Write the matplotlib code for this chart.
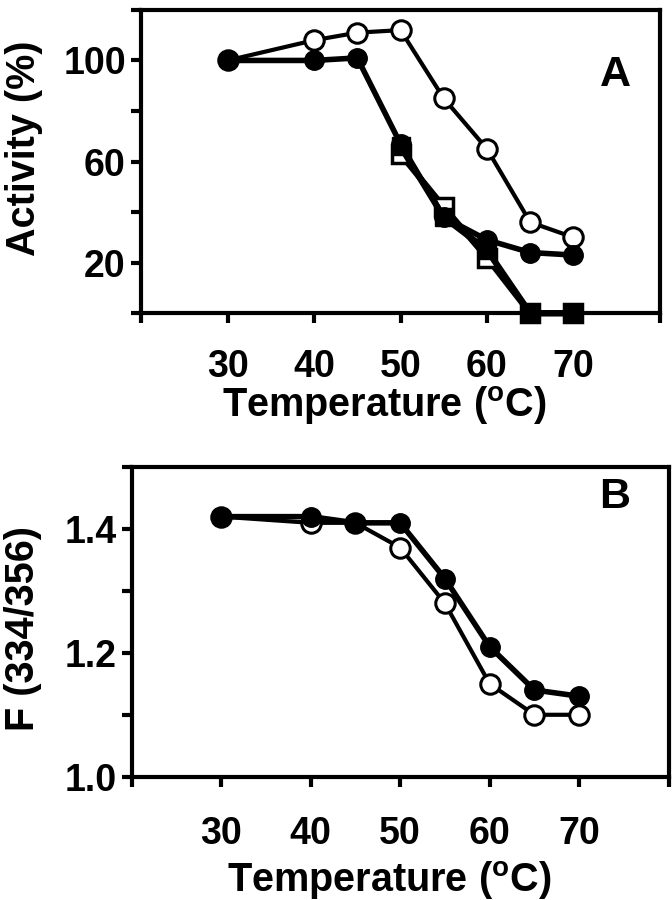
import matplotlib
matplotlib.use("Agg")
import matplotlib.pyplot as plt

plt.rcParams.update({
    "font.family": "Liberation Sans",
    "font.weight": "bold",
    "axes.labelweight": "bold",
    "mathtext.fontset": "custom",
    "mathtext.rm": "Liberation Sans:bold",
    "mathtext.bf": "Liberation Sans:bold",
})

# panel A: activity (%) vs temperature
temp_a = [30, 40, 45, 50, 55, 60, 65, 70]
act_open_circle = [100, 108, 111, 112, 85, 65, 36, 30]
act_filled_circle = [100, 100, 101, 67, 38, 29, 24, 23]
temp_sq = [50, 55, 60, 65, 70]
act_filled_square = [66, 38, 25, 0, 0]
act_open_square = [63, 42, 22, 0, 0]

# panel B: fluorescence ratio vs temperature
temp_b = [30, 40, 45, 50, 55, 60, 65, 70]
f_filled = [1.42, 1.42, 1.41, 1.41, 1.32, 1.21, 1.14, 1.13]
f_open = [1.42, 1.41, 1.41, 1.37, 1.28, 1.15, 1.10, 1.10]

x_ticks = [20, 30, 40, 50, 60, 70, 80]
x_labels = ["", "30", "40", "50", "60", "70", ""]
ya_ticks = [0, 20, 40, 60, 80, 100, 120]
ya_labels = ["", "20", "", "60", "", "100", ""]
yb_ticks = [1.0, 1.1, 1.2, 1.3, 1.4, 1.5]
yb_labels = ["1.0", "", "1.2", "", "1.4", ""]

XLABEL = r"Temperature ($^{\mathbf{o}}$C)"
FS = 27
LFS = 28.5

fig = plt.figure(figsize=(6.72, 9.0), dpi=100)


def style(ax, xpad):
    for s in ax.spines.values():
        s.set_linewidth(3)
    ax.tick_params(direction="out", length=7, width=3, labelsize=FS)
    ax.tick_params(axis="x", pad=xpad)
    ax.tick_params(axis="y", pad=4)
    ax.set_xlim(20, 80)
    ax.set_xticks(x_ticks)
    ax.set_xticklabels(x_labels)


# ---- A ----
ax = fig.add_axes([0.21, 0.652, 0.772, 0.337])
style(ax, 19)
ax.set_ylim(0, 120)
ax.set_yticks(ya_ticks)
ax.set_yticklabels(ya_labels)
ax.plot(temp_sq, act_open_square, "-s", color="black", lw=4.5, ms=13,
        mfc="white", mec="black", mew=2.5, clip_on=False, zorder=3)
ax.plot(temp_sq, act_filled_square, "-s", color="black", lw=4.5, ms=13,
        clip_on=False, zorder=4)
ax.plot(temp_a, act_open_circle, "-o", color="black", lw=3, ms=14,
        mfc="white", mec="black", mew=2.2, clip_on=False, zorder=5)
ax.plot(temp_a, act_filled_circle, "-o", color="black", lw=4, ms=14,
        clip_on=False, zorder=6)
ax.set_ylabel("Activity (%)", fontsize=LFS)
ax.yaxis.set_label_coords(-0.19, 0.545)
ax.set_xlabel(XLABEL, fontsize=LFS)
ax.xaxis.set_label_coords(0.468, -0.235)
ax.text(0.915, 0.785, "A", transform=ax.transAxes, fontsize=31,
        ha="center", va="center")

# ---- B ----
ax = fig.add_axes([0.196, 0.137, 0.799, 0.344])
style(ax, 21)
ax.set_ylim(1.0, 1.5)
ax.set_yticks(yb_ticks)
ax.set_yticklabels(yb_labels)
ax.plot(temp_b, f_open, "-o", color="black", lw=3, ms=14,
        mfc="white", mec="black", mew=2.2, clip_on=False, zorder=3)
ax.plot(temp_b, f_filled, "-o", color="black", lw=4, ms=14,
        clip_on=False, zorder=4)
ax.set_ylabel("F (334/356)", fontsize=LFS)
ax.yaxis.set_label_coords(-0.168, 0.48)
ax.set_xlabel(XLABEL, fontsize=LFS)
ax.xaxis.set_label_coords(0.48, -0.265)
ax.text(0.9, 0.903, "B", transform=ax.transAxes, fontsize=31,
        ha="center", va="center")

fig.savefig("out.png", dpi=100)
